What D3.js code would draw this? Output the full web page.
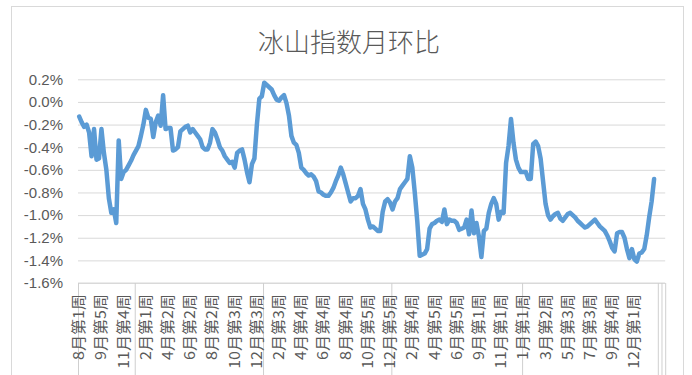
<!DOCTYPE html>
<html><head><meta charset="utf-8">
<script src="https://cdn.jsdelivr.net/npm/d3@7"></script>
<style>
body{margin:0;background:#fff;}
svg{display:block;}
</style></head>
<body><svg id="c" width="692" height="375"></svg>
<script>
const title = "冰山指数月环比";
const categoryCount = 238;
const tickLabels = ["8月第1周","9月第5周","11月第4周","2月第1周","4月第2周","6月第2周","8月第2周","10月第3周","12月第3周","2月第3周","4月第4周","6月第4周","8月第4周","10月第5周","12月第5周","2月第4周","4月第5周","6月第5周","9月第1周","11月第1周","1月第1周","3月第2周","5月第3周","7月第3周","9月第4周","12月第1周"];
const tickEvery = 9;
const groupBoundaries = [0,23,75,127,180,235,236.5,238];
const yTicks = [0.2,0,-0.2,-0.4,-0.6,-0.8,-1.0,-1.2,-1.4,-1.6];
const values = [
-0.13,-0.18,-0.22,-0.20,-0.27,-0.48,-0.24,-0.51,-0.50,-0.24,
-0.45,-0.60,-0.85,-0.98,-0.95,-1.07,-0.34,-0.68,-0.62,-0.60,
-0.56,-0.52,-0.47,-0.43,-0.39,-0.30,-0.20,-0.07,-0.14,-0.15,
-0.31,-0.18,-0.12,-0.21,0.06,-0.24,-0.23,-0.23,-0.43,-0.42,
-0.40,-0.26,-0.24,-0.22,-0.21,-0.27,-0.24,-0.27,-0.30,-0.33,
-0.40,-0.42,-0.42,-0.36,-0.24,-0.27,-0.33,-0.40,-0.43,-0.48,
-0.51,-0.54,-0.53,-0.58,-0.45,-0.43,-0.42,-0.51,-0.62,-0.71,
-0.55,-0.50,-0.20,0.03,0.05,0.17,0.15,0.13,0.11,0.06,
0.02,0.01,0.04,0.06,-0.01,-0.12,-0.30,-0.36,-0.38,-0.45,
-0.58,-0.60,-0.63,-0.65,-0.64,-0.66,-0.70,-0.79,-0.80,-0.82,
-0.83,-0.83,-0.80,-0.76,-0.70,-0.65,-0.58,-0.64,-0.72,-0.80,
-0.88,-0.85,-0.85,-0.83,-0.77,-0.90,-0.95,-1.04,-1.11,-1.10,
-1.12,-1.14,-1.14,-0.97,-0.88,-0.86,-0.89,-0.95,-0.88,-0.85,
-0.77,-0.74,-0.71,-0.68,-0.48,-0.58,-0.80,-1.05,-1.36,-1.35,
-1.34,-1.30,-1.12,-1.08,-1.07,-1.05,-1.04,-1.06,-0.95,-1.08,
-1.04,-1.05,-1.05,-1.07,-1.13,-1.12,-1.11,-1.04,-1.17,-0.96,
-1.16,-1.07,-1.19,-1.37,-1.14,-1.12,-0.98,-0.90,-0.85,-0.90,
-1.04,-0.97,-0.98,-0.54,-0.39,-0.15,-0.36,-0.51,-0.58,-0.62,
-0.62,-0.62,-0.68,-0.68,-0.37,-0.35,-0.39,-0.50,-0.70,-0.90,
-1.00,-1.04,-1.01,-0.99,-0.98,-1.03,-1.05,-1.02,-0.99,-0.98,
-1.00,-1.02,-1.05,-1.07,-1.09,-1.11,-1.10,-1.08,-1.06,-1.04,
-1.07,-1.10,-1.12,-1.14,-1.18,-1.23,-1.29,-1.32,-1.16,-1.15,
-1.15,-1.20,-1.30,-1.38,-1.30,-1.39,-1.41,-1.34,-1.33,-1.30,
-1.18,-1.02,-0.88,-0.68
];

const svg = d3.select("#c");
const plotLeft = 78, plotRight = 665.2, plotTop = 79.3, plotBottom = 283;
const x = d3.scaleLinear().domain([0, categoryCount]).range([plotLeft, plotRight]);
const y = d3.scaleLinear().domain([-1.6, 0.2]).range([plotBottom, plotTop]);
const grey = "#595959", grid = "#D9D9D9";

// chart border
svg.append("rect").attr("x",11.5).attr("y",6.5).attr("width",672).attr("height",400)
  .attr("fill","#fff").attr("stroke","#D9D9D9").attr("stroke-width",1);

// title
svg.append("text").attr("x",349).attr("y",40).attr("text-anchor","middle")
  .attr("dominant-baseline","central")
  .attr("font-family","'Noto Sans CJK SC', sans-serif").attr("font-size",26)
  .attr("font-weight",300)
  .attr("fill",grey).text(title);

// gridlines + y labels
const fmt = v => (v < -1e-9 ? "-" : "") + Math.abs(v).toFixed(1) + "%";
const yAxis = d3.axisLeft(y).tickValues(yTicks).tickSize(-(plotRight-plotLeft)).tickPadding(15).tickFormat(fmt);
const gy = svg.append("g").attr("transform",`translate(${plotLeft},0)`).call(yAxis);
gy.select(".domain").remove();
gy.selectAll(".tick line").attr("stroke",grid).attr("stroke-width",1);
gy.selectAll(".tick text").attr("fill",grey).attr("font-size",15)
  .attr("font-family","'Liberation Sans', Arial, sans-serif");

// x axis: group separators
const xAxis = d3.axisBottom(x).tickValues(groupBoundaries).tickSize(100).tickFormat("");
const gx = svg.append("g").attr("transform",`translate(0,${plotBottom})`).call(xAxis);
gx.select(".domain").attr("stroke",grid).attr("d",`M${plotLeft},0H${plotRight}`);
gx.selectAll(".tick line").attr("stroke","#CFCFCF");

// category labels
const labelData = tickLabels.map((t,k)=>({t, i:k*tickEvery}));
svg.append("g").selectAll("text").data(labelData).join("text")
  .attr("transform", d=>`translate(${x(d.i+0.5)+5},${plotBottom+11}) rotate(-90) scale(1.07,1)`)
  .attr("text-anchor","end")
  .attr("font-family","'Noto Sans CJK SC', sans-serif").attr("font-size",15)
  .attr("fill",grey).text(d=>d.t);

// line
const line = d3.line().x((d,i)=>x(i+0.5)).y(d=>y(d));
svg.append("path").datum(values).attr("d",line).attr("fill","none")
  .attr("stroke","#5B9BD5").attr("stroke-width",4.5)
  .attr("stroke-linejoin","round").attr("stroke-linecap","round");
</script></body></html>
